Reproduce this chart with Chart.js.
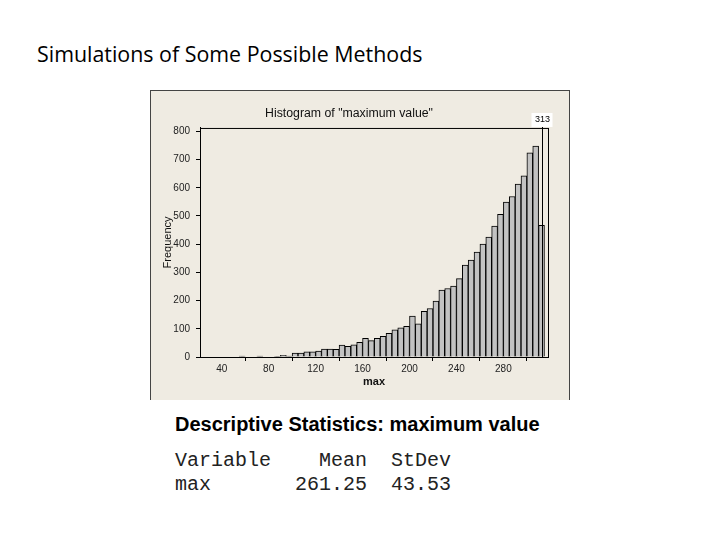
<!DOCTYPE html>
<html>
<head>
<meta charset="utf-8">
<script src="https://cdn.jsdelivr.net/npm/chart.js@4.4.1/dist/chart.umd.min.js"></script>
<style>
  body { margin: 0; background: #fff; width: 720px; height: 540px; position: relative; overflow: hidden; }
  #slideTitle { position: absolute; left: 37px; top: 39px; font-family: "Open Sans", sans-serif; font-size: 21.4px; color: #000; white-space: nowrap; }
  #frame { position: absolute; left: 150px; top: 90px; width: 420px; height: 310px; box-sizing: border-box;
           background: #efebe2; border: 1px solid #444; border-bottom: none; }
  #histo { position: absolute; left: 150px; top: 90px; }
  #statsHead { position: absolute; left: 175px; top: 413px; font-family: "Liberation Sans", Arial, sans-serif; font-weight: bold; font-size: 20px; white-space: nowrap; }
  #statsBody { position: absolute; left: 175px; top: 449px; font-family: "Liberation Mono", monospace; font-size: 20px; line-height: 24px; color: #222; white-space: pre; margin: 0; }
</style>
</head>
<body>
<div id="slideTitle">Simulations of Some Possible Methods</div>
<div id="frame"></div>
<canvas id="histo" width="420" height="310"></canvas>
<div id="statsHead">Descriptive Statistics: maximum value</div>
<pre id="statsBody">Variable    Mean  StDev
max       261.25  43.53</pre>

<script>
// lower edge of each bin (bin width 5)
const binStarts = [55, 60, 65, 70, 75, 80, 85, 90, 95, 100, 105, 110, 115, 120, 125, 130, 135, 140, 145, 150,
  155, 160, 165, 170, 175, 180, 185, 190, 195, 200, 205, 210, 215, 220, 225, 230, 235, 240, 245, 250,
  255, 260, 265, 270, 275, 280, 285, 290, 295, 300, 305, 310];
const counts = [3, 0, 0, 3, 0, 0, 2, 6, 3, 14, 14, 18, 18, 21, 28, 28, 27, 42, 38, 43,
  52, 66, 58, 66, 73, 84, 96, 103, 109, 145, 118, 162, 172, 198, 237, 243, 251, 278, 326, 344,
  372, 400, 425, 464, 506, 549, 569, 613, 642, 724, 748, 467];
const binWidth = 5;
const xTicks = [40, 80, 120, 160, 200, 240, 280];
const yTicks = [0, 100, 200, 300, 400, 500, 600, 700, 800];
const refLine = 313;

const points = binStarts.map((s, i) => ({ x: s + binWidth / 2, y: counts[i] }));

// plot frame + reference line with its label box
const framePlugin = {
  id: 'framePlugin',
  afterDraw(chart) {
    const { ctx, chartArea: a, scales } = chart;
    ctx.save();
    ctx.strokeStyle = '#000';
    ctx.lineWidth = 1;
    ctx.strokeRect(a.left + 0.5, a.top + 0.5, a.right - a.left, a.bottom - a.top);

    const px = Math.round(scales.x.getPixelForValue(refLine)) + 0.5;
    const boxTop = a.top - 15;
    ctx.beginPath();
    ctx.moveTo(px, boxTop + 14);
    ctx.lineTo(px, a.bottom);
    ctx.stroke();

    ctx.fillStyle = '#fff';
    ctx.fillRect(px - 11, boxTop, 21, 14);
    ctx.fillStyle = '#000';
    ctx.font = '9px "Liberation Sans", Arial, sans-serif';
    ctx.textAlign = 'center';
    ctx.textBaseline = 'middle';
    ctx.fillText(String(refLine), px, boxTop + 7);
    ctx.restore();
  }
};

const tickFont = { family: '"Liberation Sans", Arial, sans-serif', size: 10 };

new Chart(document.getElementById('histo').getContext('2d'), {
  type: 'bar',
  data: {
    datasets: [{
      label: 'max',
      data: points,
      backgroundColor: '#c2c2c2',
      borderColor: '#000',
      borderWidth: 1,
      barPercentage: 1,
      categoryPercentage: 1
    }]
  },
  options: {
    responsive: false,
    animation: false,
    layout: { padding: { left: 0, right: 22, top: 0, bottom: 0 } },
    plugins: {
      legend: { display: false },
      tooltip: { enabled: false },
      title: {
        display: true,
        text: 'Histogram of "maximum value"',
        color: '#111',
        font: { family: '"Liberation Sans", Arial, sans-serif', size: 12.3, weight: 'normal' },
        padding: { top: 16, bottom: 7.2 }
      }
    },
    scales: {
      x: {
        type: 'linear',
        min: 21.5,
        max: 318,
        offset: false,
        afterBuildTicks: axis => { axis.ticks = xTicks.map(v => ({ value: v })); },
        afterFit: scale => { scale.height = 43; },
        grid: { display: true, drawOnChartArea: false, drawTicks: true, tickLength: 4, color: '#000' },
        border: { display: true, color: '#000' },
        ticks: { color: '#222', font: tickFont, padding: 2, maxRotation: 0, autoSkip: false },
        title: { display: true, text: 'max', color: '#111',
                 font: { family: '"Liberation Sans", Arial, sans-serif', size: 11, weight: 'bold' },
                 padding: { top: 0, bottom: 11.4 } }
      },
      y: {
        min: 0,
        max: 812,
        afterBuildTicks: axis => { axis.ticks = yTicks.map(v => ({ value: v })); },
        afterFit: scale => { scale.width = 50; },
        grid: { display: true, drawOnChartArea: false, drawTicks: true, tickLength: 4, color: '#000' },
        border: { display: true, color: '#000' },
        ticks: { color: '#222', font: tickFont, padding: 6, autoSkip: false },
        title: { display: true, text: 'Frequency', color: '#111',
                 font: { family: '"Liberation Sans", Arial, sans-serif', size: 11 },
                 padding: { top: 11.4, bottom: 0 } }
      }
    }
  },
  plugins: [framePlugin]
});
</script>
</body>
</html>
